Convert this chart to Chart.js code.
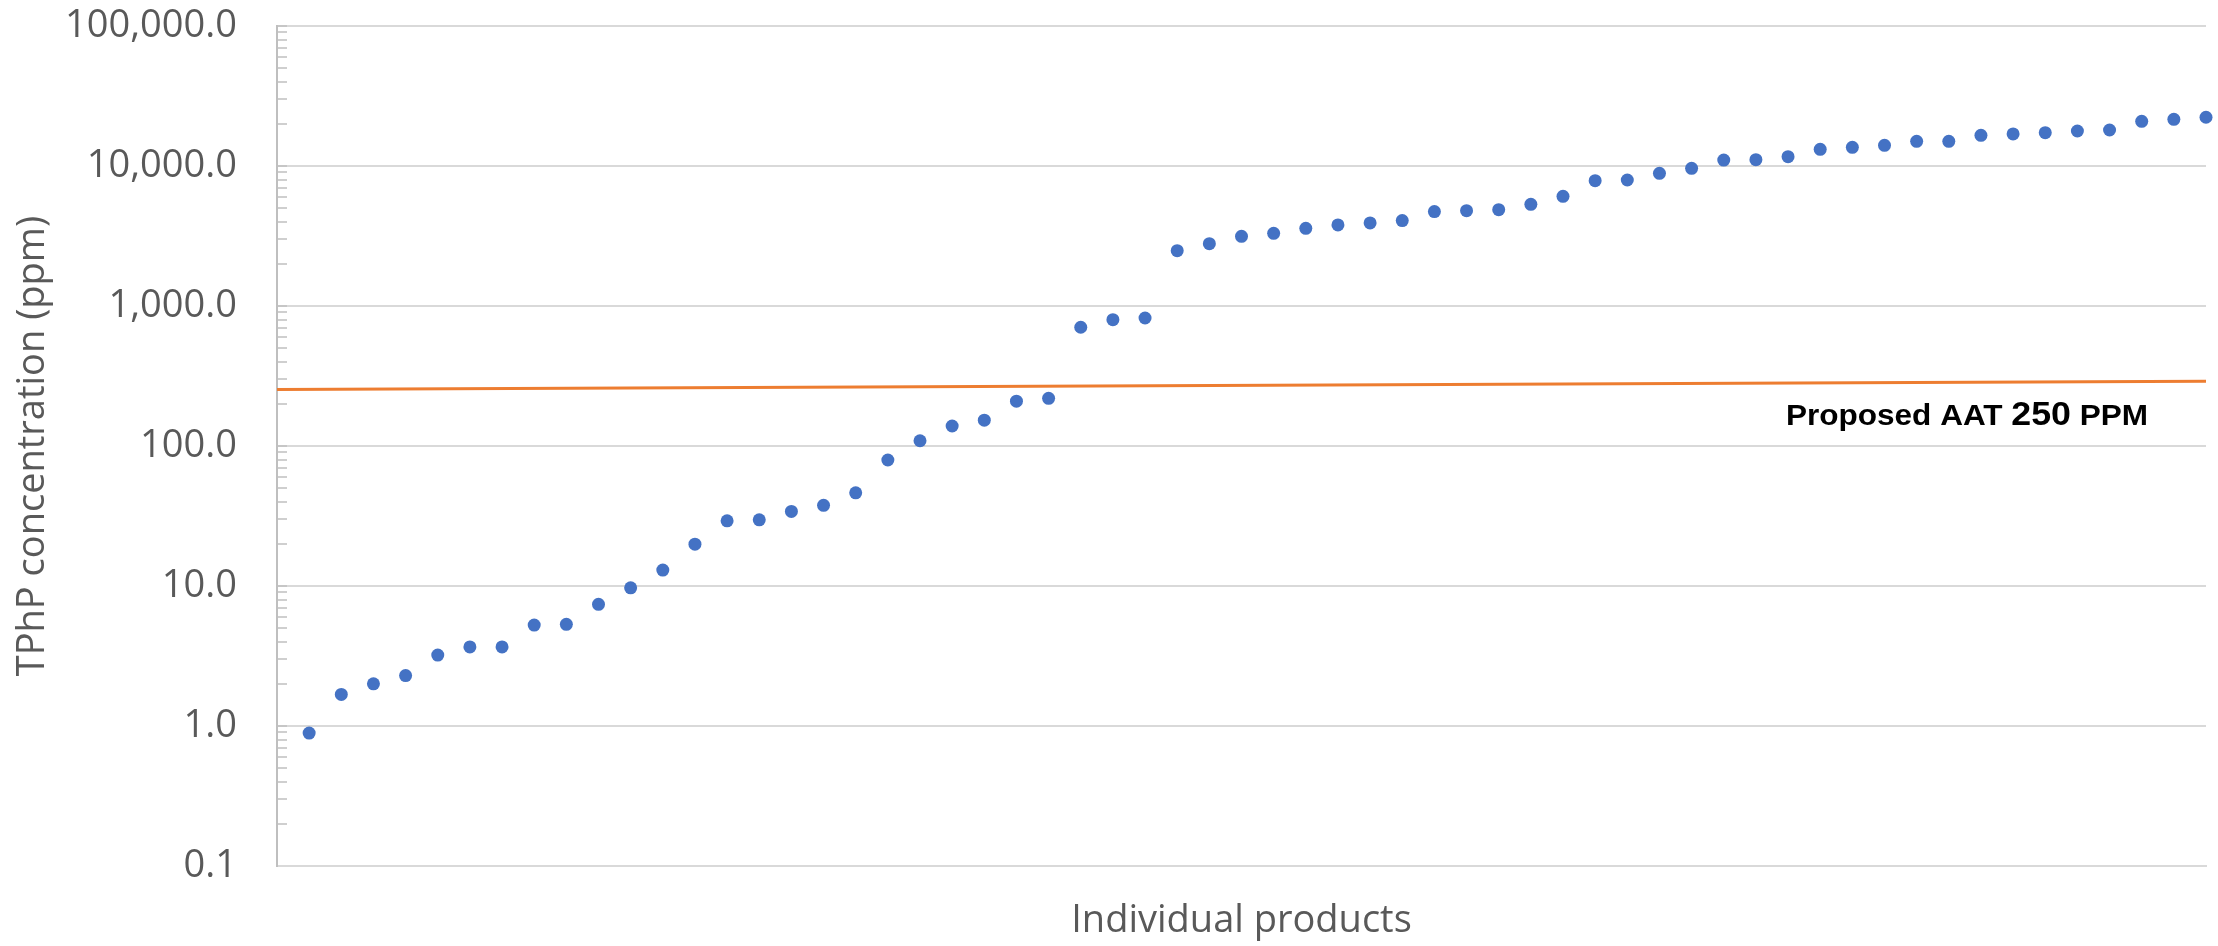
<!DOCTYPE html>
<html>
<head>
<meta charset="utf-8">
<script src="https://cdn.jsdelivr.net/npm/chart.js@4/dist/chart.umd.min.js"></script>
<style>
  html, body { margin: 0; padding: 0; background: #fff; }
  canvas { display: block; }
</style>
</head>
<body>
<canvas id="tphpChart" width="2218" height="946"></canvas>
<script>
// --- Données ---
const productIndex = [1, 2, 3, 4, 5, 6, 7, 8, 9, 10, 11, 12, 13, 14, 15, 16, 17, 18, 19, 20,
  21, 22, 23, 24, 25, 26, 27, 28, 29, 30, 31, 32, 33, 34, 35, 36, 37, 38, 39, 40,
  41, 42, 43, 44, 45, 46, 47, 48, 49, 50, 51, 52, 53, 54, 55, 56, 57, 58, 59, 60];

const tphpPpm = [0.89, 1.68, 2.0, 2.29, 3.21, 3.67, 3.67, 5.26, 5.32, 7.4,
  9.7, 13.0, 19.9, 29.2, 29.7, 34.1, 37.7, 46.3, 79.4, 109,
  139, 153, 209, 219, 705, 798, 821, 2485, 2786, 3147,
  3306, 3589, 3792, 3920, 4074, 4722, 4800, 4877, 5324, 6070,
  7850, 7940, 8865, 9620, 11030, 11100, 11660, 13160, 13600, 14050,
  15000, 15000, 16560, 16940, 17310, 17780, 18080, 20850, 21550, 22300];

// ligne orange "Proposed AAT" (légèrement inclinée sur l'original)
const aatX = [0, 60];
const aatY = [253, 290];

// graduations de l'axe Y
const yDecades = [0.1, 1, 10, 100, 1000, 10000, 100000];
const yTickLabels = ['0.1', '1.0', '10.0', '100.0', '1,000.0', '10,000.0', '100,000.0'];
const yMinorSteps = [1, 2, 3, 4, 5, 6, 7, 8, 9];

const greyText = '#595959';
const axisFont = { family: '"Open Sans", sans-serif', size: 38 };

const isDecade = v => Math.abs(Math.log10(v) - Math.round(Math.log10(v))) < 1e-6;

// texte "Proposed AAT 250 PPM" sous la ligne orange
const aatLabelPlugin = {
  id: 'aatLabel',
  afterDatasetsDraw(chart) {
    const { ctx, chartArea, scales } = chart;
    const parts = [['Proposed AAT ', 30], ['250', 34], [' PPM', 30]];
    ctx.save();
    ctx.fillStyle = '#000';
    ctx.textBaseline = 'alphabetic';
    let total = 0;
    const widths = parts.map(([t, s]) => {
      ctx.font = `bold ${s}px "Liberation Sans", Arial, sans-serif`;
      const w = ctx.measureText(t).width;
      total += w;
      return w;
    });
    const targetW = 362;
    const right = chartArea.right - 58;
    const baseline = scales.y.getPixelForValue(100) - 21;
    ctx.translate(right - targetW, baseline);
    ctx.scale(targetW / total, 1);
    let x = 0;
    parts.forEach(([t, s], i) => {
      ctx.font = `bold ${s}px "Liberation Sans", Arial, sans-serif`;
      ctx.fillText(t, x, 0);
      x += widths[i];
    });
    ctx.restore();
  }
};

new Chart(document.getElementById('tphpChart'), {
  type: 'scatter',
  data: {
    datasets: [
      {
        label: 'TPhP',
        data: productIndex.map((x, i) => ({ x, y: tphpPpm[i] })),
        backgroundColor: '#4472C4',
        borderColor: '#4472C4',
        borderWidth: 0,
        pointRadius: 6.5,
        clip: false
      },
      {
        type: 'line',
        label: 'Proposed AAT',
        data: aatX.map((x, i) => ({ x, y: aatY[i] })),
        borderColor: '#ED7D31',
        borderWidth: 3,
        pointRadius: 0,
        fill: false
      }
    ]
  },
  options: {
    responsive: false,
    devicePixelRatio: 1,
    animation: false,
    layout: { padding: { top: 26, right: 12, left: 0, bottom: 0 } },
    plugins: {
      legend: { display: false },
      tooltip: { enabled: false }
    },
    scales: {
      x: {
        type: 'linear',
        min: 0,
        max: 60,
        afterFit: s => {
          s.height = 80;
          s.paddingLeft = 0; s.paddingRight = 0;
        },
        grid: { display: false },
        border: { display: true, color: '#D9D9D9', width: 2 },
        ticks: { display: false },
        title: {
          display: true,
          text: 'Individual products',
          color: greyText,
          font: axisFont,
          padding: { top: 0, bottom: 2 }
        }
      },
      y: {
        type: 'logarithmic',
        min: 0.1,
        max: 100000,
        afterFit: s => {
          s.width = 277;
          s.paddingTop = 0; s.paddingBottom = 0;
        },
        afterBuildTicks: s => {
          s.ticks = yDecades.slice(0, -1)
            .flatMap(d => yMinorSteps.map(m => ({ value: d * m })))
            .concat([{ value: yDecades[yDecades.length - 1] }]);
        },
        border: { color: '#BFBFBF', width: 2 },
        grid: {
          color: c => (c.tick && isDecade(c.tick.value)) ? '#D9D9D9' : 'rgba(0,0,0,0)',
          lineWidth: 2,
          drawTicks: true,
          tickLength: -10,
          tickColor: '#BFBFBF',
          tickWidth: 1.5
        },
        ticks: {
          autoSkip: false,
          padding: 50,
          color: greyText,
          font: axisFont,
          callback: v => {
            const i = yDecades.findIndex(d => Math.abs(d - v) < d * 1e-6);
            return i >= 0 ? yTickLabels[i] : '';
          }
        },
        title: {
          display: true,
          text: 'TPhP concentration (ppm)',
          color: greyText,
          font: axisFont,
          padding: { top: 10, bottom: 0 }
        }
      }
    }
  },
  plugins: [aatLabelPlugin]
});
</script>
</body>
</html>
